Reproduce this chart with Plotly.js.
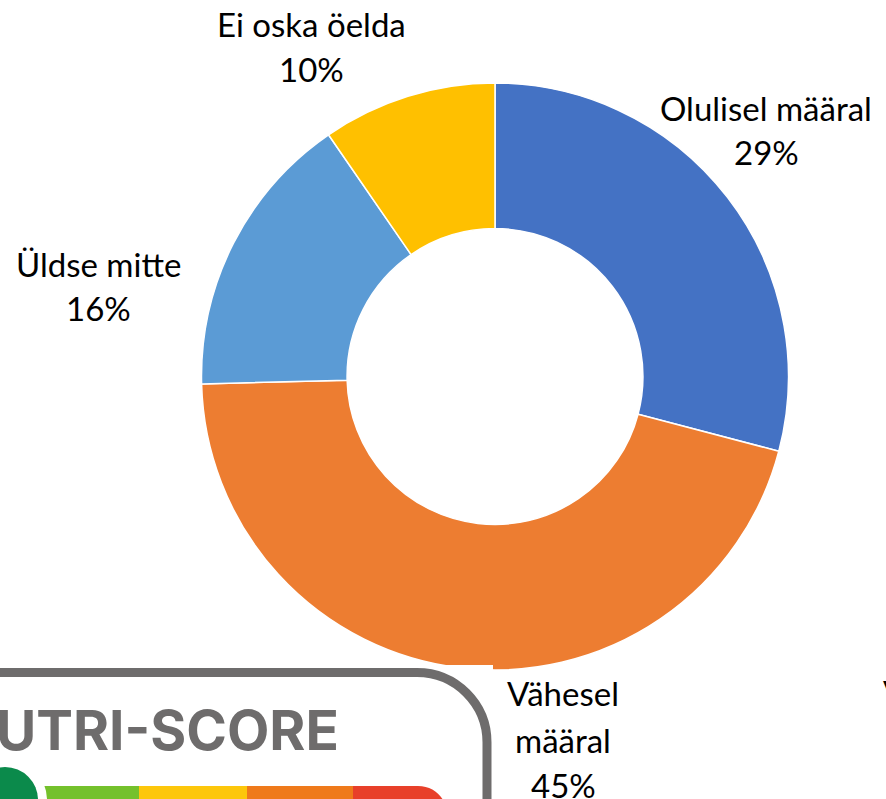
<!DOCTYPE html>
<html><head><meta charset="utf-8">
<script src="https://cdn.plot.ly/plotly-3.0.1.min.js"></script>
<style>html,body{margin:0;padding:0;overflow:hidden;background:#fff}</style>
</head><body><div id="chart" style="width:886px;height:799px"></div>
<script>
// ---- data ----
const categories = ["Olulisel määral", "Vähesel määral", "Üldse mitte", "Ei oska öelda"];
const shares = [29.1, 45.5, 15.8, 9.6];
const percentLabels = ["29%", "45%", "16%", "10%"];
const sliceColors = ["#4472C4", "#ED7D31", "#5B9BD5", "#FFC000"];

// ---- layout helpers (pixel -> paper) ----
const W = 886, H = 799;
const px = x => x / W;
const py = y => 1 - y / H;

// donut geometry in pixels
const cx = 495, cy = 376.5, R = 293.5;

// label placement (pixels): x centre and line centres
const labelSpec = [
  {x: 766, ys: [107.5, 151.5], split: false},
  {x: 563, ys: [693, 740, 785], split: true},
  {x: 98,  ys: [264, 308], split: false},
  {x: 311.5, ys: [24, 69.5], split: false}
];

const labelFont = {family: "Lato, 'Open Sans', sans-serif", size: 33, color: "#000000"};
const annotations = [];
categories.forEach((c, i) => {
  const spec = labelSpec[i];
  const lines = (spec.split ? c.split(" ") : [c]).concat([percentLabels[i]]);
  lines.forEach((t, j) => {
    annotations.push({
      text: t, xref: "paper", yref: "paper", x: px(spec.x), y: py(spec.ys[j]),
      xanchor: "center", yanchor: "middle", showarrow: false, font: labelFont
    });
  });
});
// fragment of a cut-off label at right edge
annotations.push({text: "V", xref: "paper", yref: "paper", x: px(881), y: py(692),
  xanchor: "left", yanchor: "middle", showarrow: false, font: labelFont});

// Nutri-Score logo fragment (decoration)
const logoGray = "#6E6C6C";
annotations.push({text: "<b>UTRI-SCORE</b>", xref: "paper", yref: "paper", x: px(341), y: py(730),
  xanchor: "right", yanchor: "middle", showarrow: false,
  font: {family: "Inter, Roboto, sans-serif", size: 55, color: logoGray}});

function P(pts) { // build path from pixel commands
  return pts.map(p => typeof p === "string" ? p : (px(p[0]).toFixed(5) + "," + py(p[1]).toFixed(5))).join(" ");
}
const shapes = [
  {type: "rect", xref: "paper", yref: "paper", layer: "above",
   x0: px(-20), x1: px(493), y0: py(665), y1: py(830), fillcolor: "#FFFFFF", line: {width: 0}},
  {type: "path", xref: "paper", yref: "paper", layer: "above",
   path: P(["M", [-20, 672.5], "L", [417, 672.5], "C", [455.7, 672.5], [487, 703.8], [487, 742.5], "L", [487, 830]]),
   line: {color: logoGray, width: 9}},
  {type: "rect", xref: "paper", yref: "paper", layer: "above",
   x0: px(40), x1: px(139), y0: py(786), y1: py(830), fillcolor: "#74C12C", line: {width: 0}},
  {type: "rect", xref: "paper", yref: "paper", layer: "above",
   x0: px(139), x1: px(247), y0: py(786), y1: py(830), fillcolor: "#FDC70B", line: {width: 0}},
  {type: "rect", xref: "paper", yref: "paper", layer: "above",
   x0: px(247), x1: px(353), y0: py(786), y1: py(830), fillcolor: "#EF7A1B", line: {width: 0}},
  {type: "path", xref: "paper", yref: "paper", layer: "above",
   path: P(["M", [353, 786], "L", [418, 786], "C", [435, 786], [447, 799], [447, 815], "L", [447, 830], "L", [353, 830], "Z"]),
   fillcolor: "#E8402A", line: {width: 0}},
  {type: "circle", xref: "paper", yref: "paper", layer: "above",
   x0: px(5 - 42), x1: px(5 + 42), y0: py(800 - 42), y1: py(800 + 42), fillcolor: "#FFFFFF", line: {width: 0}},
  {type: "circle", xref: "paper", yref: "paper", layer: "above",
   x0: px(5 - 33), x1: px(5 + 33), y0: py(800 - 33), y1: py(800 + 33), fillcolor: "#0B8A4B", line: {width: 0}}
];

const trace = {
  type: "pie",
  labels: categories,
  values: shares,
  marker: {colors: sliceColors, line: {color: "#FFFFFF", width: 1.5}},
  hole: 0.504,
  sort: false,
  direction: "clockwise",
  rotation: 0,
  textinfo: "none",
  hoverinfo: "label+percent",
  showlegend: false,
  domain: {x: [px(cx - R), px(cx + R)], y: [py(cy + R), py(cy - R)]}
};

const layout = {
  width: W, height: H,
  margin: {l: 0, r: 0, t: 0, b: 0},
  paper_bgcolor: "#FFFFFF",
  showlegend: false,
  annotations: annotations,
  shapes: shapes
};

Plotly.newPlot("chart", [trace], layout, {displayModeBar: false, staticPlot: true});
</script>
</body></html>
